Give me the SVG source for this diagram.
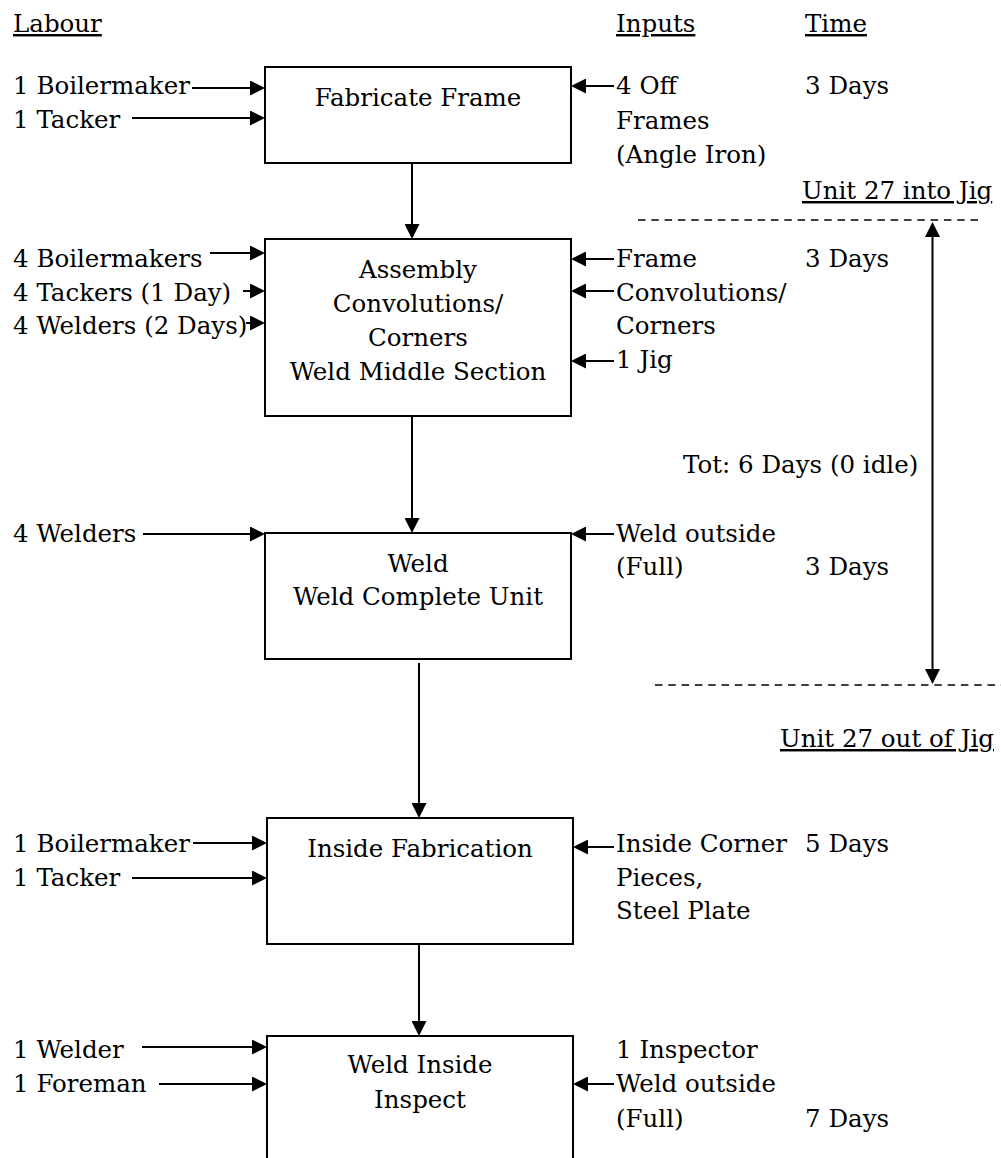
<svg xmlns="http://www.w3.org/2000/svg" width="1001" height="1158" viewBox="0 0 1001 1158">
<style>
text{font-family:"DejaVu Serif","Liberation Serif",serif;font-size:24.5px;fill:#000}
.c{text-anchor:middle}
.u{text-decoration:underline}
.box{fill:#fff;stroke:#000;stroke-width:2}
.ln{stroke:#000;stroke-width:2;fill:none}
.ar{stroke:#000;stroke-width:2;fill:none;marker-end:url(#ah)}
.dash{stroke:#000;stroke-width:1.5;stroke-dasharray:7.5 5.8;fill:none}
</style>
<defs>
<marker id="ah" viewBox="0 0 15 15" refX="12" refY="7.5" markerWidth="15" markerHeight="15" markerUnits="userSpaceOnUse" orient="auto-start-reverse"><path d="M0,0L15,7.5L0,15z" fill="#000"/></marker>
</defs>
<rect width="1001" height="1158" fill="#fff"/>
<g id="headers">
<text x="13" y="32" class="u">Labour</text>
<text x="616" y="32" class="u">Inputs</text>
<text x="805" y="32" class="u">Time</text>
</g>
<g id="connectors">
<line class="ar" x1="192" y1="88" x2="262" y2="88"/>
<line class="ar" x1="132" y1="118" x2="262" y2="118"/>
<line class="ar" x1="210" y1="253" x2="262" y2="253"/>
<line class="ar" x1="243" y1="291" x2="262" y2="291"/>
<line class="ar" x1="246" y1="323" x2="262" y2="323"/>
<line class="ar" x1="143" y1="534" x2="262" y2="534"/>
<line class="ar" x1="193" y1="843" x2="264" y2="843"/>
<line class="ar" x1="132" y1="878" x2="264" y2="878"/>
<line class="ar" x1="142" y1="1047" x2="264" y2="1047"/>
<line class="ar" x1="159" y1="1084" x2="264" y2="1084"/>
<line class="ar" x1="614" y1="86" x2="574" y2="86"/>
<line class="ar" x1="614" y1="259" x2="574" y2="259"/>
<line class="ar" x1="614" y1="291" x2="574" y2="291"/>
<line class="ar" x1="614" y1="361" x2="574" y2="361"/>
<line class="ar" x1="614" y1="534" x2="574" y2="534"/>
<line class="ar" x1="614" y1="847" x2="576" y2="847"/>
<line class="ar" x1="614" y1="1084" x2="576" y2="1084"/>
<line class="ar" x1="412" y1="163" x2="412" y2="236"/>
<line class="ar" x1="412" y1="416" x2="412" y2="530"/>
<line class="ar" x1="419" y1="663" x2="419" y2="815"/>
<line class="ar" x1="419" y1="944" x2="419" y2="1033"/>
<line class="ln" x1="932.5" y1="225" x2="932.5" y2="681" marker-start="url(#ah)" marker-end="url(#ah)"/>
<line class="dash" x1="638" y1="220" x2="983" y2="220"/>
<line class="dash" x1="655" y1="685" x2="1001" y2="685"/>
</g>
<g id="labour">
<text x="13" y="94">1 Boilermaker</text>
<text x="13" y="128">1 Tacker</text>
<text x="13" y="267">4 Boilermakers</text>
<text x="13" y="301">4 Tackers (1 Day)</text>
<text x="13" y="334">4 Welders (2 Days)</text>
<text x="13" y="542">4 Welders</text>
<text x="13" y="852">1 Boilermaker</text>
<text x="13" y="886">1 Tacker</text>
<text x="13" y="1058">1 Welder</text>
<text x="13" y="1092">1 Foreman</text>
</g>
<g id="node-fabricate-frame">
<rect class="box" x="265" y="67" width="306" height="96"/>
<text class="c" x="418" y="106">Fabricate Frame</text>
</g>
<g id="node-assembly">
<rect class="box" x="265" y="239" width="306" height="177"/>
<text class="c" x="418" y="278">Assembly</text>
<text class="c" x="418" y="312">Convolutions/</text>
<text class="c" x="418" y="346">Corners</text>
<text class="c" x="418" y="380">Weld Middle Section</text>
</g>
<g id="node-weld">
<rect class="box" x="265" y="533" width="306" height="126"/>
<text class="c" x="418" y="572">Weld</text>
<text class="c" x="418" y="605">Weld Complete Unit</text>
</g>
<g id="node-inside-fabrication">
<rect class="box" x="267" y="818" width="306" height="126"/>
<text class="c" x="420" y="857">Inside Fabrication</text>
</g>
<g id="node-weld-inside">
<rect class="box" x="267" y="1036" width="306" height="140"/>
<text class="c" x="420" y="1073">Weld Inside</text>
<text class="c" x="420" y="1108">Inspect</text>
</g>
<g id="inputs">
<text x="616" y="94">4 Off</text>
<text x="616" y="129">Frames</text>
<text x="616" y="163">(Angle Iron)</text>
<text x="616" y="267">Frame</text>
<text x="616" y="301">Convolutions/</text>
<text x="616" y="334">Corners</text>
<text x="616" y="368">1 Jig</text>
<text x="616" y="542">Weld outside</text>
<text x="616" y="575">(Full)</text>
<text x="616" y="852">Inside Corner</text>
<text x="616" y="886">Pieces,</text>
<text x="616" y="919">Steel Plate</text>
<text x="616" y="1058">1 Inspector</text>
<text x="616" y="1092">Weld outside</text>
<text x="616" y="1127">(Full)</text>
</g>
<g id="times">
<text x="805" y="94">3 Days</text>
<text x="805" y="267">3 Days</text>
<text x="805" y="575">3 Days</text>
<text x="805" y="852">5 Days</text>
<text x="805" y="1127">7 Days</text>
<text x="802" y="199" class="u">Unit 27 into Jig</text>
<text x="683" y="473">Tot: 6 Days (0 idle)</text>
<text x="780" y="747" class="u">Unit 27 out of Jig</text>
</g>
</svg>
